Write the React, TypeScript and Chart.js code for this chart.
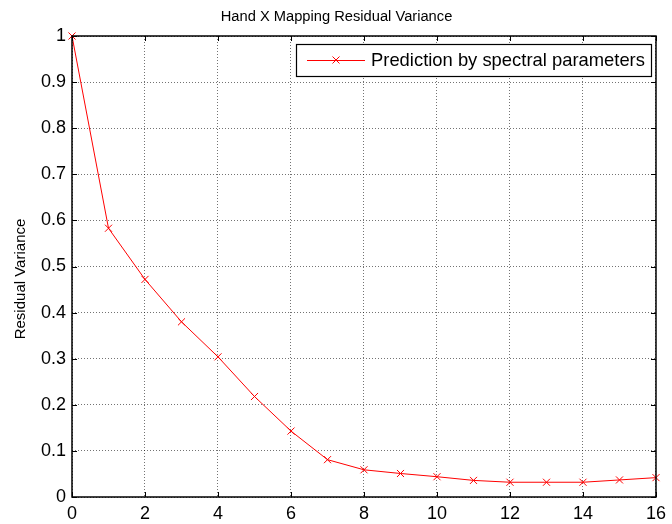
import React, { useEffect, useRef } from "react";
import { Chart, registerables } from "chart.js";

Chart.register(...registerables);

const TITLE = "Hand X Mapping Residual Variance";
const Y_LABEL = "Residual Variance";
const SERIES_LABEL = "Prediction by spectral parameters";
const xValues = [0, 1, 2, 3, 4, 5, 6, 7, 8, 9, 10, 11, 12, 13, 14, 15, 16];
const residual = [1.0, 0.583, 0.472, 0.38, 0.304, 0.218, 0.143, 0.081, 0.059, 0.051, 0.044, 0.036, 0.032, 0.032, 0.032, 0.037, 0.042];
const xTicks = [0, 2, 4, 6, 8, 10, 12, 14, 16];
const yTicks = [0, 0.1, 0.2, 0.3, 0.4, 0.5, 0.6, 0.7, 0.8, 0.9, 1];

const FONT = "'Liberation Sans', Arial, Helvetica, sans-serif";

const framePlugin = {
  id: "matlabFrame",
  afterDraw(chart: any) {
    const { ctx, chartArea } = chart;
    const { left, right, top, bottom } = chartArea;
    const xs = chart.scales.x;
    const ys = chart.scales.y;
    ctx.save();
    ctx.strokeStyle = "#000";
    ctx.lineWidth = 1;
    ctx.setLineDash([]);
    // tick marks inward
    ctx.beginPath();
    xTicks.forEach((t) => {
      const px = Math.round(xs.getPixelForValue(t)) + 0.5;
      ctx.moveTo(px, bottom);
      ctx.lineTo(px, bottom - 5);
      ctx.moveTo(px, top);
      ctx.lineTo(px, top + 5);
    });
    yTicks.forEach((t) => {
      const py = Math.round(ys.getPixelForValue(t)) + 0.5;
      ctx.moveTo(left, py);
      ctx.lineTo(left + 5, py);
      ctx.moveTo(right, py);
      ctx.lineTo(right - 5, py);
    });
    ctx.stroke();
    // box
    ctx.lineWidth = 1.5;
    ctx.strokeRect(left, top, right - left, bottom - top);

    // title
    ctx.fillStyle = "#000";
    ctx.font = `14.7px ${FONT}`;
    ctx.textAlign = "center";
    ctx.textBaseline = "middle";
    ctx.fillText(TITLE, 336.5, 17);

    // y axis label
    ctx.save();
    ctx.translate(21, 279);
    ctx.rotate(-Math.PI / 2);
    ctx.fillStyle = "#000";
    ctx.font = `15px ${FONT}`;
    ctx.textAlign = "center";
    ctx.textBaseline = "middle";
    ctx.fillText(Y_LABEL, 0, 0);
    ctx.restore();

    // legend
    const lx0 = 296, ly0 = 44, lx1 = 651, ly1 = 76;
    ctx.fillStyle = "#fff";
    ctx.fillRect(lx0, ly0, lx1 - lx0, ly1 - ly0);
    ctx.lineWidth = 1.2;
    ctx.strokeStyle = "#000";
    ctx.strokeRect(lx0 + 0.5, ly0 + 0.5, lx1 - lx0, ly1 - ly0);
    const cy = (ly0 + ly1) / 2;
    ctx.strokeStyle = "#ff0000";
    ctx.lineWidth = 1;
    ctx.beginPath();
    ctx.moveTo(307, cy + 0.5);
    ctx.lineTo(365, cy + 0.5);
    ctx.moveTo(336 - 3.5, cy - 3.5);
    ctx.lineTo(336 + 3.5, cy + 3.5);
    ctx.moveTo(336 + 3.5, cy - 3.5);
    ctx.lineTo(336 - 3.5, cy + 3.5);
    ctx.stroke();
    ctx.fillStyle = "#000";
    ctx.font = `18.4px ${FONT}`;
    ctx.textBaseline = "middle";
    ctx.textAlign = "left";
    ctx.fillText(chart.data.datasets[0].label, 371, cy + 1);
    ctx.restore();
  },
};

export default function App() {
  const ref = useRef<HTMLCanvasElement>(null);
  useEffect(() => {
    if (!ref.current) return;
    const chart = new Chart(ref.current, {
      type: "line",
      data: {
        datasets: [
          {
            label: SERIES_LABEL,
            data: xValues.map((x, i) => ({ x, y: residual[i] })),
            borderColor: "#ff0000",
            backgroundColor: "#ff0000",
            borderWidth: 1,
            pointStyle: "crossRot",
            pointRadius: 5,
            pointBorderWidth: 1,
            pointBorderColor: "#ff0000",
            tension: 0,
            clip: false,
          },
        ],
      },
      plugins: [framePlugin],
      options: {
        responsive: false,
        animation: false,
        devicePixelRatio: 1,
        layout: { padding: { left: 0, right: 11, top: 36, bottom: 0 } },
        plugins: {
          legend: { display: false },
          tooltip: { enabled: false },
          title: { display: false },
        },
        scales: {
          x: {
            type: "linear",
            min: 0,
            max: 16,
            afterFit: (s: any) => {
              s.height = 27;
            },
            afterBuildTicks: (s: any) => {
              s.ticks = xTicks.map((v) => ({ value: v }));
            },
            ticks: {
              color: "#000",
              font: { family: FONT, size: 18 },
              padding: 6,
              maxRotation: 0,
              autoSkip: false,
            },
            grid: {
              color: "rgba(0,0,0,0.55)",
              tickLength: 0,
              drawTicks: false,
            },
            border: { display: false, dash: [1, 2] },
          },
          y: {
            type: "linear",
            min: 0,
            max: 1,
            afterFit: (s: any) => {
              s.width = 72;
            },
            afterBuildTicks: (s: any) => {
              s.ticks = yTicks.map((v) => ({ value: v }));
            },
            ticks: {
              color: "#000",
              font: { family: FONT, size: 18 },
              padding: 6,
              autoSkip: false,
              callback: (v: any) => String(parseFloat(Number(v).toFixed(1))),
            },
            grid: {
              color: "rgba(0,0,0,0.55)",
              tickLength: 0,
              drawTicks: false,
            },
            border: { display: false, dash: [1, 2] },
          },
        },
      },
    });
    return () => chart.destroy();
  }, []);
  return (
    <div style={{ position: "fixed", left: 0, top: 0, width: 672, height: 524, background: "#fff" }}>
      <canvas ref={ref} width={672} height={524} style={{ display: "block" }} />
    </div>
  );
}
